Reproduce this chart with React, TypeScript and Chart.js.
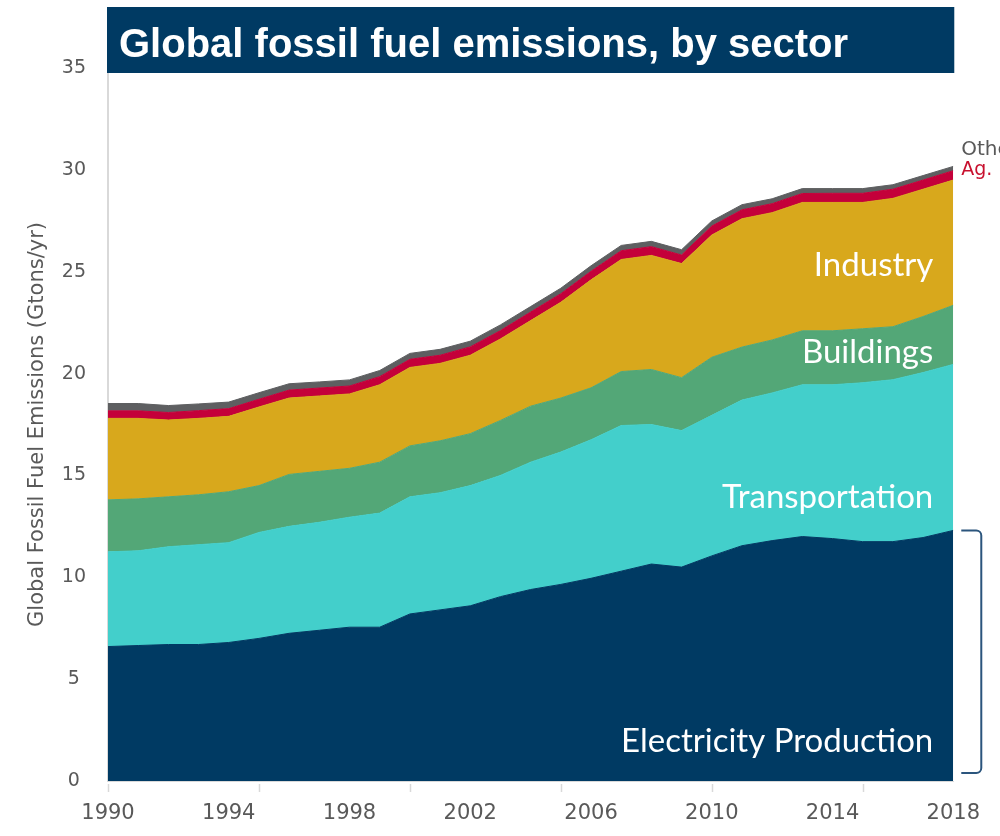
import React, { useEffect, useRef } from "react";
import { Chart, registerables } from "chart.js";

Chart.register(...registerables);

const TITLE = "Global fossil fuel emissions, by sector";
const Y_TITLE = "Global Fossil Fuel Emissions (Gtons/yr)";

const YEARS = [
  1990, 1991, 1992, 1993, 1994, 1995, 1996, 1997, 1998, 1999,
  2000, 2001, 2002, 2003, 2004, 2005, 2006, 2007, 2008, 2009,
  2010, 2011, 2012, 2013, 2014, 2015, 2016, 2017, 2018,
];

const ELECTRICITY = [
  6.6, 6.65, 6.7, 6.7, 6.8, 7.0, 7.25, 7.4, 7.55, 7.55,
  8.2, 8.4, 8.6, 9.05, 9.4, 9.65, 9.95, 10.3, 10.65, 10.5,
  11.05, 11.55, 11.8, 12.0, 11.9, 11.75, 11.75, 11.95, 12.3,
];
const TRANSPORTATION = [
  4.65, 4.65, 4.8, 4.9, 4.9, 5.2, 5.25, 5.3, 5.4, 5.6,
  5.75, 5.75, 5.9, 5.95, 6.25, 6.5, 6.8, 7.15, 6.85, 6.7,
  6.9, 7.15, 7.25, 7.45, 7.55, 7.8, 7.95, 8.1, 8.15,
];
const BUILDINGS = [
  2.55, 2.55, 2.45, 2.45, 2.5, 2.3, 2.55, 2.5, 2.4, 2.5,
  2.5, 2.55, 2.55, 2.7, 2.75, 2.65, 2.55, 2.65, 2.7, 2.6,
  2.85, 2.6, 2.6, 2.65, 2.65, 2.65, 2.6, 2.75, 2.9,
];
const INDUSTRY = [
  4.0, 3.95, 3.77, 3.75, 3.7, 3.86, 3.75, 3.7, 3.65, 3.8,
  3.85, 3.8, 3.85, 4.0, 4.2, 4.7, 5.3, 5.5, 5.6, 5.6,
  6.0, 6.3, 6.25, 6.3, 6.3, 6.2, 6.3, 6.25, 6.15,
];
const AGRICULTURE = [
  0.37, 0.37, 0.37, 0.38, 0.38, 0.38, 0.39, 0.39, 0.39, 0.4,
  0.4, 0.4, 0.41, 0.41, 0.42, 0.42, 0.42, 0.43, 0.43, 0.42,
  0.44, 0.44, 0.44, 0.44, 0.45, 0.45, 0.45, 0.45, 0.46,
];
const OTHER = [
  0.36, 0.36, 0.34, 0.33, 0.32, 0.32, 0.31, 0.3, 0.3, 0.3,
  0.29, 0.29, 0.28, 0.28, 0.27, 0.27, 0.27, 0.26, 0.26, 0.26,
  0.25, 0.25, 0.24, 0.24, 0.23, 0.23, 0.22, 0.22, 0.21,
];

const SERIES_NAMES = ["Electricity Production", "Transportation", "Buildings", "Industry", "Ag.", "Other"];
const SERIES_COLORS = ["#003a63", "#43cfcb", "#53a777", "#d8a81c", "#c4003a", "#5e5f61"];

const X_TICKS = [1990, 1994, 1998, 2002, 2006, 2010, 2014, 2018];
const X_TICK_MARKS = [1990, 1995, 2000, 2005, 2010, 2015];
const Y_TICKS = [0, 5, 10, 15, 20, 25, 30, 35];

const GRAY_TEXT = "#595959";
const AXIS_GRAY = "#d9d9d9";

const overlayPlugin = {
  id: "overlay",
  afterDraw(chart: any) {
    const { ctx, chartArea, scales } = chart;
    const xs = scales.x;
    const ys = scales.y;
    const last = YEARS.length - 1;
    ctx.save();

    // tick marks every 5 years
    ctx.strokeStyle = AXIS_GRAY;
    ctx.lineWidth = 1.5;
    X_TICK_MARKS.forEach((yr) => {
      const px = Math.round(xs.getPixelForValue(yr)) + 0.5;
      ctx.beginPath();
      ctx.moveTo(px, chartArea.bottom + 3);
      ctx.lineTo(px, chartArea.bottom + 11);
      ctx.stroke();
    });

    // title box
    ctx.fillStyle = "#003a63";
    ctx.fillRect(chartArea.left - 1, 7, chartArea.right - chartArea.left + 2, 66);
    ctx.fillStyle = "#ffffff";
    ctx.font = 'bold 40px "Liberation Sans", Arial, sans-serif';
    ctx.textAlign = "left";
    ctx.textBaseline = "alphabetic";
    ctx.fillText(TITLE, chartArea.left + 11, 57);

    // in-area labels (right aligned)
    ctx.font = '33px Lato, "Open Sans", sans-serif';
    ctx.fillStyle = "#ffffff";
    ctx.textAlign = "right";
    const rx = chartArea.right - 20;
    const anchors: [string, number][] = [
      [SERIES_NAMES[3], 24.8],
      [SERIES_NAMES[2], 20.5],
      [SERIES_NAMES[1], 13.4],
      [SERIES_NAMES[0], 1.42],
    ];
    anchors.forEach(([t, v]) => ctx.fillText(t, rx, ys.getPixelForValue(v)));

    // Other / Ag. labels at the end
    const total =
      ELECTRICITY[last] + TRANSPORTATION[last] + BUILDINGS[last] + INDUSTRY[last] + AGRICULTURE[last] + OTHER[last];
    const topY = ys.getPixelForValue(total);
    ctx.textAlign = "left";
    ctx.font = '20px "DejaVu Sans", sans-serif';
    ctx.fillStyle = GRAY_TEXT;
    ctx.fillText(SERIES_NAMES[5], chartArea.right + 8, topY - 11);
    ctx.font = '19px "DejaVu Sans", sans-serif';
    ctx.fillStyle = "#c8102e";
    ctx.fillText(SERIES_NAMES[4], chartArea.right + 8, topY + 9);

    // bracket around electricity production
    const bTop = ys.getPixelForValue(ELECTRICITY[last]);
    const bBot = ys.getPixelForValue(0) - 8;
    const x0 = chartArea.right + 8;
    const x1 = chartArea.right + 28;
    const r = 5;
    ctx.strokeStyle = "#2b557d";
    ctx.lineWidth = 2;
    ctx.beginPath();
    ctx.moveTo(x0, bTop);
    ctx.lineTo(x1 - r, bTop);
    ctx.arcTo(x1, bTop, x1, bTop + r, r);
    ctx.lineTo(x1, bBot - r);
    ctx.arcTo(x1, bBot, x1 - r, bBot, r);
    ctx.lineTo(x0, bBot);
    ctx.stroke();

    ctx.restore();
  },
};

export default function App() {
  const ref = useRef<HTMLCanvasElement | null>(null);

  useEffect(() => {
    document.body.style.margin = "0";
    const canvas = ref.current;
    if (!canvas) return;
    const series = [ELECTRICITY, TRANSPORTATION, BUILDINGS, INDUSTRY, AGRICULTURE, OTHER];
    const chart = new Chart(canvas, {
      type: "line",
      data: {
        datasets: series.map((vals, i) => ({
          label: SERIES_NAMES[i],
          data: YEARS.map((yr, j) => ({ x: yr, y: vals[j] })),
          backgroundColor: SERIES_COLORS[i],
          borderColor: SERIES_COLORS[i],
          borderWidth: 1,
          fill: i === 0 ? "origin" : "-1",
          pointRadius: 0,
          tension: 0,
        })),
      },
      options: {
        responsive: false,
        animation: false,
        layout: { padding: { top: 68, right: 45, left: 0, bottom: 0 } },
        plugins: {
          legend: { display: false },
          tooltip: { enabled: false },
          title: { display: false },
        },
        scales: {
          x: {
            type: "linear",
            min: 1990,
            max: 2018,
            grid: { display: false, drawTicks: false },
            border: { display: true, color: AXIS_GRAY, width: 1 },
            afterBuildTicks: (s: any) => {
              s.ticks = X_TICKS.map((v) => ({ value: v }));
            },
            ticks: {
              color: GRAY_TEXT,
              font: { family: '"DejaVu Sans", sans-serif', size: 21 },
              padding: 20,
              maxRotation: 0,
              autoSkip: false,
              callback: (v: any) => String(v),
            },
            afterFit: (s: any) => {
              s.height = 55;
            },
          },
          y: {
            stacked: true,
            min: 0,
            max: 35,
            grid: { display: false, drawTicks: false },
            border: { display: true, color: AXIS_GRAY, width: 2 },
            afterBuildTicks: (s: any) => {
              s.ticks = Y_TICKS.map((v) => ({ value: v }));
            },
            ticks: {
              color: GRAY_TEXT,
              font: { family: '"DejaVu Sans", sans-serif', size: 19 },
              padding: 22,
              crossAlign: "center",
              callback: (v: any) => String(v),
            },
            title: {
              display: true,
              text: Y_TITLE,
              color: GRAY_TEXT,
              font: { family: '"DejaVu Sans", sans-serif', size: 21 },
              padding: { top: 25, bottom: 0 },
            },
            afterFit: (s: any) => {
              s.width = 108;
            },
          },
        },
      },
      plugins: [overlayPlugin],
    } as any);
    return () => chart.destroy();
  }, []);

  return <canvas ref={ref} width={1000} height={836} style={{ display: "block" }} />;
}
